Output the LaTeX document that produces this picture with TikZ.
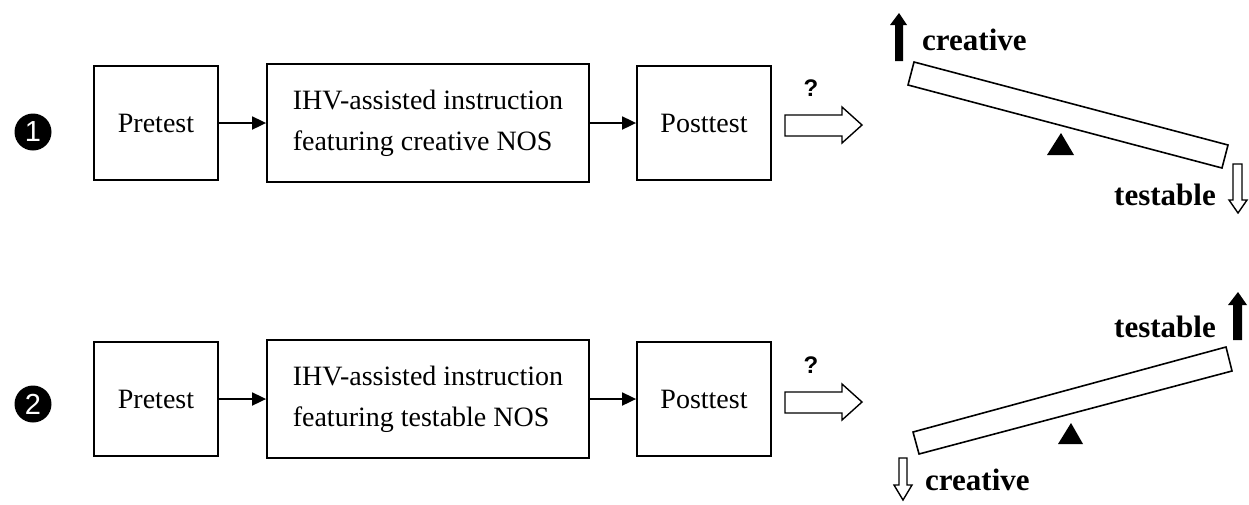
\documentclass[tikz,border=0pt]{standalone}
\usepackage{fontspec}
\setmainfont{Liberation Serif}
\newfontfamily\sansf{Liberation Sans}
\usetikzlibrary{arrows.meta}
\begin{document}
\begin{tikzpicture}[x=1pt,y=-1pt,
  box/.style={draw,line width=1.8pt,inner sep=0pt,font=\fontsize{28}{41}\selectfont},
  conn/.style={line width=1.8pt,-{Triangle[length=14pt,width=13pt]}},
  hollow/.style={draw,line width=1.4pt,fill=white},
  plank/.style={draw,line width=1.6pt},
  lbl/.style={inner sep=0pt,anchor=base west,font=\bfseries\fontsize{31}{31}\selectfont},
  qmark/.style={inner sep=0pt,font=\sansf\bfseries\fontsize{24}{24}\selectfont},
  numc/.style={circle,fill=black,minimum size=37pt,inner sep=0pt,text=white,font=\sansf\fontsize{29}{29}\selectfont}]
\useasboundingbox (0,0) rectangle (1249,504);

% ---------- row 1 ----------
\node[numc] (n1) at (33,132) {1};
\node[box,minimum width=124pt,minimum height=114pt] (pre1) at (156,123) {Pretest};
\node[box,minimum width=322pt,minimum height=118pt,align=left] (ihv1) at (428,123) {IHV-assisted instruction\\featuring creative NOS};
\node[box,minimum width=134pt,minimum height=114pt] (post1) at (704,123) {Posttest};
\draw[conn] (pre1) -- (ihv1);
\draw[conn] (ihv1) -- (post1);
\node[qmark] (q1) at (811,88) {?};
\draw[hollow] (785,115) -- (842,115) -- (842,107) -- (862,125) -- (842,143) -- (842,136) -- (785,136) -- cycle;
\draw[plank] (914,62) -- (1228,145) -- (1222,168) -- (908,85) -- cycle;
\fill (1047,155) -- (1061,133) -- (1074,155) -- cycle;
\fill (895,61) -- (895,25) -- (890,25) -- (899,13) -- (907,25) -- (903,25) -- (903,61) -- cycle;
\node[lbl] (c1) at (922,50) {creative};
\node[lbl] (t1) at (1114,205) {testable};
\draw[hollow] (1233,164) -- (1242,164) -- (1242,200) -- (1247,200) -- (1238,213) -- (1229,200) -- (1233,200) -- cycle;

% ---------- row 2 ----------
\node[numc] (n2) at (33,404) {2};
\node[box,minimum width=124pt,minimum height=114pt] (pre2) at (156,399) {Pretest};
\node[box,minimum width=322pt,minimum height=118pt,align=left] (ihv2) at (428,399) {IHV-assisted instruction\\featuring testable NOS};
\node[box,minimum width=134pt,minimum height=114pt] (post2) at (704,399) {Posttest};
\draw[conn] (pre2) -- (ihv2);
\draw[conn] (ihv2) -- (post2);
\node[qmark] (q2) at (811,365) {?};
\draw[hollow] (785,392) -- (842,392) -- (842,384) -- (862,402) -- (842,420) -- (842,413) -- (785,413) -- cycle;
\draw[plank] (913,432) -- (1226,347) -- (1232,371) -- (919,454) -- cycle;
\fill (1058,444) -- (1071,423) -- (1083,444) -- cycle;
\fill (1233,340) -- (1233,305) -- (1228,305) -- (1238,292) -- (1247,305) -- (1242,305) -- (1242,340) -- cycle;
\node[lbl] (t2) at (1114,337) {testable};
\node[lbl] (c2) at (925,490) {creative};
\draw[hollow] (899,458) -- (907,458) -- (907,485) -- (912,485) -- (903,500) -- (894,485) -- (899,485) -- cycle;
\end{tikzpicture}
\end{document}
